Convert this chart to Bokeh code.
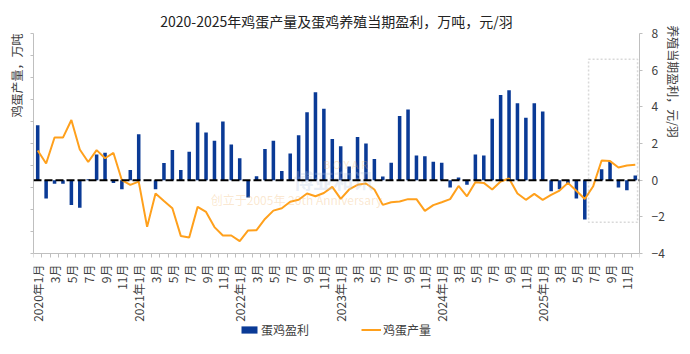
from math import pi
from bokeh.plotting import figure
from bokeh.models import (Range1d, LinearAxis, FixedTicker, Span, BoxAnnotation,
                          Label, Legend, LegendItem, ColumnDataSource)
from bokeh.embed import file_html
from bokeh.resources import INLINE

# ---------------- data ----------------
month_index = list(range(72))  # 2020-01 ... 2025-12

# 蛋鸡养殖当期盈利 (元/羽), right axis
profit = [
    3.0, -1.0, -0.2, -0.2, -1.35, -1.5, 0.05, 1.4, 1.5, -0.15, -0.5, 0.55,    # 2020
    2.5, -0.05, -0.5, 0.93, 1.65, 0.55, 1.55, 3.15, 2.6, 2.15, 3.2, 1.95,     # 2021
    1.2, -0.95, 0.22, 1.7, 2.15, 0.5, 1.45, 2.45, 3.7, 4.8, 3.9, 2.25,        # 2022
    1.85, 0.75, 2.35, 2.0, 1.15, 0.2, 0.95, 3.5, 3.85, 1.35, 1.3, 1.0,        # 2023
    0.95, -0.4, 0.15, -0.25, 1.4, 1.35, 3.35, 4.65, 4.9, 4.2, 3.4, 4.2,       # 2024
    3.75, -0.6, -0.5, -0.25, -1.0, -2.15, 0.0, 0.6, 1.05, -0.4, -0.55, 0.25,  # 2025
]

# 鸡蛋产量 (万吨), left axis (unlabelled scale)
production = [
    4.68, 4.09, 5.27, 5.27, 6.07, 4.73, 4.16, 4.70, 4.33, 4.57, 3.33, 3.12,
    3.27, 1.21, 2.73, 2.39, 2.06, 0.80, 0.73, 2.12, 1.89, 1.20, 0.82, 0.82,
    0.56, 1.05, 1.06, 1.57, 1.95, 2.06, 2.35, 2.44, 2.73, 2.60, 2.75, 3.03,
    2.48, 2.91, 3.12, 3.18, 2.91, 2.21, 2.33, 2.36, 2.47, 2.47, 1.94, 2.20,
    2.33, 2.47, 3.07, 2.60, 3.24, 3.21, 2.91, 3.27, 3.41, 2.73, 2.44, 2.71,
    2.44, 2.66, 2.86, 3.21, 2.85, 2.48, 3.06, 4.23, 4.20, 3.91, 4.00, 4.03,
]

tick_positions = list(range(0, 72, 2))
tick_labels = [
    "2020年1月", "3月", "5月", "7月", "9月", "11月",
    "2021年1月", "3月", "5月", "7月", "9月", "11月",
    "2022年1月", "3月", "5月", "7月", "9月", "11月",
    "2023年1月", "3月", "5月", "7月", "9月", "11月",
    "2024年1月", "3月", "5月", "7月", "9月", "11月",
    "2025年1月", "3月", "5月", "7月", "9月", "11月",
]
right_ticks = [-4, -2, 0, 2, 4, 6, 8]
left_ticks = list(range(0, 11))
right_bounds = (-4, 8)
left_bounds = (0, 10)

left_title = "鸡蛋产量，万吨"
right_title = "养殖当期盈利，元/羽"

# highlighted window (dotted box), in data units
box_left, box_right, box_bottom, box_top = 65.45, 71.27, -2.3, 6.6

# ---------------- layout ----------------
# The plotting frame runs from y=33 down to the page bottom (354) so that the
# legend under the axis can live inside it; value -4 (right) / 0 (left) sits at y=253.
FRAME_TOP, AXIS_Y, PAGE_H = 33, 253, 354
px_per_right = (AXIS_Y - FRAME_TOP) / (right_bounds[1] - right_bounds[0])
px_per_left = (AXIS_Y - FRAME_TOP) / (left_bounds[1] - left_bounds[0])
right_lo = right_bounds[0] - (PAGE_H - AXIS_Y) / px_per_right
left_lo = left_bounds[0] - (PAGE_H - AXIS_Y) / px_per_left

# axis titles are centred on the top end of the axis; ideographic spaces push
# the visible characters so that they hang down from the top, as in the original
PAD = "\u3000"
left_title_padded = left_title + PAD * 7
right_title_padded = PAD * 8 + right_title

# ---------------- style ----------------
FONT = "Noto Sans CJK SC"
AX = "#bfbfbf"
TXT = "#404040"
BAR = "#0a3a96"
LINE = "#ffa01c"

source = ColumnDataSource(dict(x=month_index, profit=profit, prod=production))

p = figure(frame_width=606, frame_height=PAGE_H - FRAME_TOP,
           x_range=Range1d(-0.5, 71.5), y_range=Range1d(right_lo, right_bounds[1]),
           output_backend="svg", toolbar_location=None,
           x_axis_location=None, y_axis_location=None,
           title="2020-2025年鸡蛋产量及蛋鸡养殖当期盈利，万吨，元/羽",
           min_border_left=33, min_border_right=51, min_border_top=FRAME_TOP, min_border_bottom=0)
p.extra_y_ranges = {"prod": Range1d(left_lo, left_bounds[1])}
p.xgrid.visible = False
p.ygrid.visible = False
p.outline_line_color = None
p.background_fill_color = "white"
p.border_fill_color = "white"

p.title.align = "center"
p.title.text_font = FONT
p.title.text_font_size = "14px"
p.title.text_font_style = "normal"
p.title.text_color = "#222222"
p.title.standoff = 6

has_align = "axis_label_align" in LinearAxis.properties()

# bottom axis, drawn at value -4
minor = [i - 0.5 for i in range(73)]
xaxis = LinearAxis(ticker=FixedTicker(ticks=tick_positions, minor_ticks=minor),
                   fixed_location=right_bounds[0],
                   major_label_overrides={pos: lab for pos, lab in zip(tick_positions, tick_labels)},
                   major_label_orientation=pi / 2,
                   major_tick_out=0, major_tick_in=0, minor_tick_out=4, minor_tick_in=0,
                   axis_line_color=AX, minor_tick_line_color=AX, major_tick_line_color=None,
                   major_label_standoff=7, major_label_text_font=FONT,
                   major_label_text_font_size="12px", major_label_text_color=TXT)
p.add_layout(xaxis, "below")

# left axis (no numbers)
laxis = LinearAxis(y_range_name="prod", bounds=left_bounds,
                   ticker=FixedTicker(ticks=left_ticks, minor_ticks=[]),
                   major_tick_out=3, major_tick_in=0, minor_tick_out=0, minor_tick_in=0,
                   axis_line_color=AX, major_tick_line_color=AX,
                   major_label_text_color=None, major_label_text_font_size="1px",
                   major_label_standoff=0,
                   axis_label=left_title_padded if has_align else left_title,
                   axis_label_text_font=FONT,
                   axis_label_text_font_size="12px", axis_label_text_font_style="normal",
                   axis_label_text_color=TXT, axis_label_standoff=6)
if has_align:
    laxis.axis_label_align = "end"
p.add_layout(laxis, "left")

# right axis
raxis = LinearAxis(bounds=right_bounds, ticker=FixedTicker(ticks=right_ticks, minor_ticks=[]),
                   major_tick_out=3, major_tick_in=0, minor_tick_out=0, minor_tick_in=0,
                   axis_line_color=AX, major_tick_line_color=AX,
                   major_label_standoff=9, major_label_text_font=FONT,
                   major_label_text_font_size="12px", major_label_text_color=TXT,
                   axis_label=right_title_padded if has_align else right_title,
                   axis_label_text_font=FONT,
                   axis_label_text_font_size="12px", axis_label_text_font_style="normal",
                   axis_label_text_color=TXT, axis_label_standoff=-3)
if has_align:
    raxis.axis_label_align = "end"
p.add_layout(raxis, "right")

# watermark (screen units measured from the frame's bottom-left corner)
def wm(cx, cy, text, size, color, bold=False):
    return Label(x=cx - 33, y=PAGE_H - cy, x_units="screen", y_units="screen", text=text,
                 text_font=FONT, text_font_size=size, text_color=color, text_alpha=0.3,
                 text_font_style="bold" if bold else "normal",
                 text_align="center", text_baseline="middle")

for w in (wm(345, 163, "B O Y A R", "11px", "#f0b060"),
          wm(333, 180, "博亚和讯", "20px", "#b4c3e2", True),
          wm(296, 199, "创立于2005年 20th Anniversary", "12px", "#f0b060")):
    p.add_layout(w)

bars = p.vbar(x="x", top="profit", width=0.42, source=source, fill_color=BAR, line_color=None)

zero = Span(location=0, dimension="width", line_color="black", line_width=2, line_dash="8 3")
p.add_layout(zero)

line = p.line(x="x", y="prod", source=source, y_range_name="prod", line_color=LINE, line_width=2)

box = BoxAnnotation(left=box_left, right=box_right, bottom=box_bottom, top=box_top,
                    fill_color=None, fill_alpha=0, line_color="#808080", line_width=1.5,
                    line_dash="2 2")
p.add_layout(box)

legend = Legend(items=[LegendItem(label="蛋鸡盈利", renderers=[bars]),
                       LegendItem(label="鸡蛋产量", renderers=[line])],
                orientation="horizontal", location=(206, PAGE_H - 338),
                glyph_width=20, glyph_height=9, label_height=14, label_standoff=2, spacing=52,
                padding=0, margin=0, border_line_color=None, background_fill_alpha=0,
                label_text_font=FONT, label_text_font_size="12px", label_text_color=TXT)
p.add_layout(legend, "center")

open("out.html", "w").write(file_html(p, INLINE))
